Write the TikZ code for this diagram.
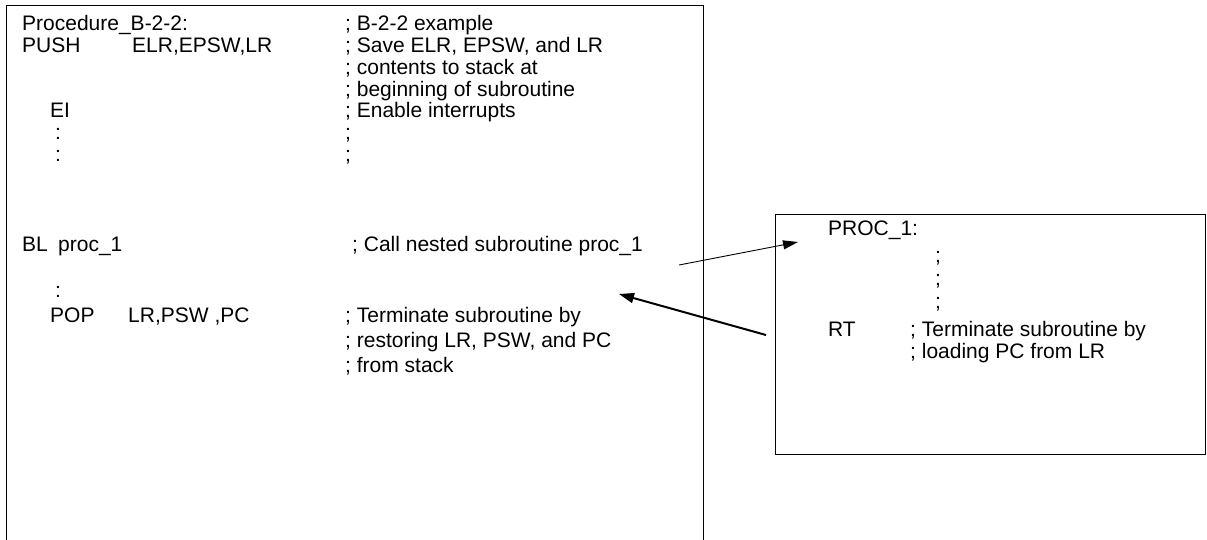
\documentclass[tikz,border=0pt]{standalone}
\usepackage{fontspec}
\setmainfont{Liberation Sans}
\usetikzlibrary{arrows.meta}
\begin{document}
\begin{tikzpicture}[x=1pt,y=-1pt,
  code/.style={anchor=base west,inner sep=0pt,font=\fontsize{21}{22}\selectfont},
  frame/.style={draw=black,line width=1pt},
  callarrow/.style={line width=0.9pt,-{Triangle[length=15pt,width=9pt]}},
  retarrow/.style={line width=2pt,-{Triangle[length=15pt,width=10pt]}}]
\useasboundingbox[fill=white] (0,0) rectangle (1207,539);
\clip (0,0) rectangle (1207,539);

% caller routine frame (runs off the bottom edge)
\draw[frame] (6,5) rectangle (703,560);
% nested routine frame
\draw[frame] (775,214) rectangle (1205,454);

% caller routine listing
\node[code] (l1)  at (22,30)  {Procedure\_B-2-2:};
\node[code] (c1)  at (345,30) {; B-2-2 example};
\node[code] (l2)  at (22,52)  {PUSH};
\node[code] (l2b) at (132,52) {ELR,EPSW,LR};
\node[code] (c2)  at (345,52) {; Save ELR, EPSW, and LR};
\node[code] (c3)  at (345,74) {; contents to stack at};
\node[code] (c4)  at (345,96) {; beginning of subroutine};
\node[code] (l5)  at (50,117) {EI};
\node[code] (c5)  at (345,117) {; Enable interrupts};
\node[code] (l6)  at (55,139) {:};
\node[code] (c6)  at (345,139) {;};
\node[code] (l7)  at (55,161) {:};
\node[code] (c7)  at (345,161) {;};
\node[code] (bl)  at (22,251) {BL};
\node[code] (blt) at (58,251) {proc\_1};
\node[code] (cbl) at (352,251) {; Call nested subroutine proc\_1};
\node[code] (l9)  at (55,297) {:};
\node[code] (pop) at (50,322) {POP};
\node[code] (popt) at (128,322) {LR,PSW ,PC};
\node[code] (cp1) at (345,322) {; Terminate subroutine by};
\node[code] (cp2) at (345,347) {; restoring LR, PSW, and PC};
\node[code] (cp3) at (345,372) {; from stack};

% nested routine listing
\node[code] (p1) at (828,235) {PROC\_1:};
\node[code] (s1) at (935,262) {;};
\node[code] (s2) at (935,285) {;};
\node[code] (s3) at (935,308) {;};
\node[code] (rt) at (828,336) {RT};
\node[code] (rc1) at (910,336) {; Terminate subroutine by};
\node[code] (rc2) at (910,358) {; loading PC from LR};

% call and return
\coordinate (callfrom) at (679,265);
\coordinate (callto)   at (798,242);
\coordinate (retfrom)  at (766,335);
\coordinate (retto)    at (619,294);
\draw[callarrow] (callfrom) -- (callto);
\draw[retarrow]  (retfrom) -- (retto);
\end{tikzpicture}
\end{document}
